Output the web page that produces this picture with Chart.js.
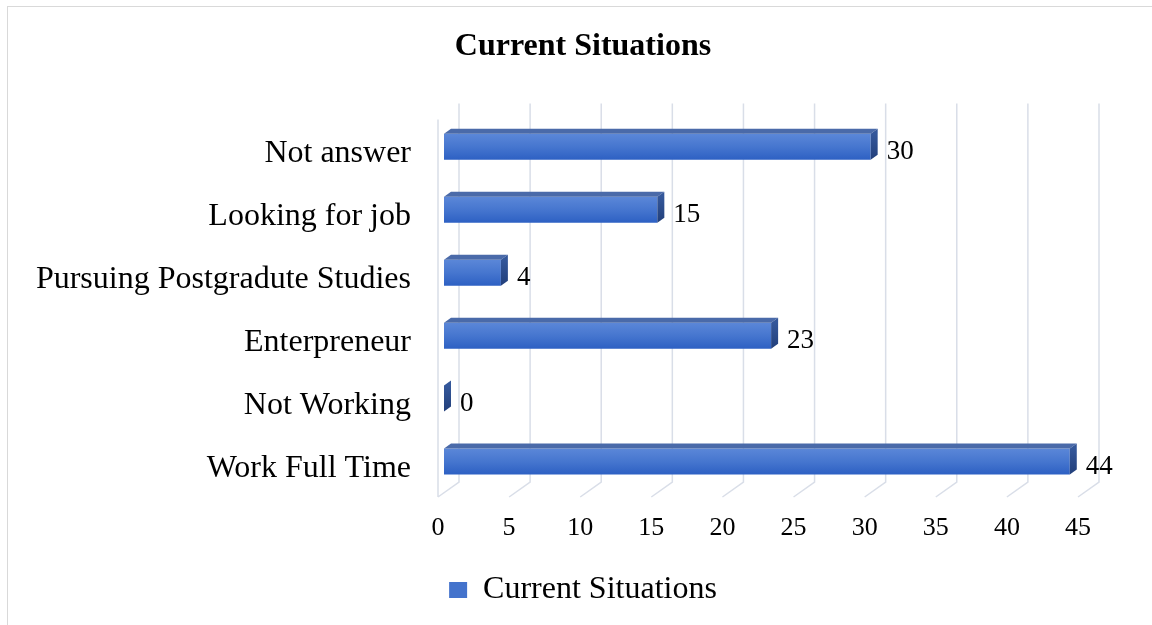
<!DOCTYPE html>
<html lang="en">
<head>
  <meta charset="UTF-8" />
  <title>Current Situations</title>
  <style>
    body {
      margin: 0;
      overflow: hidden;
      background-color: #fff;
    }
    #chart {
      display: block;
    }
  </style>
  <script src="https://cdn.jsdelivr.net/npm/chart.js"></script>
</head>
<body>
  <!-- a little wider than the window so the title/legend centre on the frame -->
  <canvas id="chart" width="1166" height="625"></canvas>

  <script>
    const categories = ['Not answer', 'Looking for job', 'Pursuing Postgradute Studies', 'Enterpreneur', 'Not Working', 'Work Full Time'];
    const values = [30, 15, 4, 23, 0, 44];
    const seriesName = 'Current Situations';
    const xMax = 45;
    const xStep = 5;

    const serif = "'Liberation Serif', 'Times New Roman', serif";

    // fake 3D: back wall offset, bar depth, and bar plane shift
    const wallDepth = { x: 21, y: -15 };
    const barDepth = { x: 7, y: -5 };
    const barShift = { x: 6, y: -4 };
    const barPct = 0.413;

    function frontFill(c) {
      const chart = c.chart;
      const yScale = chart.scales.y;
      if (!yScale || c.dataIndex === undefined) return '#4472C4';
      const cy = yScale.getPixelForValue(c.dataIndex);
      const h = (yScale.bottom - yScale.top) / categories.length * barPct;
      const g = chart.ctx.createLinearGradient(0, cy - h / 2, 0, cy + h / 2);
      g.addColorStop(0, '#5B87D8');
      g.addColorStop(0.5, '#4676CF');
      g.addColorStop(1, '#2D60C3');
      return g;
    }

    const fake3d = {
      id: 'fake3d',
      beforeDraw(chart) {
        const ctx = chart.ctx;
        ctx.save();
        ctx.fillStyle = '#fff';
        ctx.fillRect(0, 0, chart.width, chart.height);
        ctx.strokeStyle = '#D9D9D9';
        ctx.lineWidth = 1;
        ctx.strokeRect(7.5, 6.5, chart.width, chart.height);
        ctx.restore();
      },
      beforeDatasetsDraw(chart) {
        const { ctx, chartArea: a, scales: { x } } = chart;
        ctx.save();
        ctx.strokeStyle = '#D9DEE8';
        ctx.lineWidth = 1.5;
        ctx.beginPath();
        ctx.moveTo(a.left, a.top);
        ctx.lineTo(a.left, a.bottom);
        x.ticks.forEach(t => {
          const px = x.getPixelForValue(t.value);
          ctx.moveTo(px, a.bottom);
          ctx.lineTo(px + wallDepth.x, a.bottom + wallDepth.y);
          ctx.lineTo(px + wallDepth.x, a.top + wallDepth.y - 1);
        });
        ctx.stroke();
        ctx.restore();
        // bars sit a bit behind the front plane
        ctx.save();
        ctx.translate(barShift.x, barShift.y);
      },
      afterDatasetsDraw(chart) {
        const ctx = chart.ctx;
        const bars = chart.getDatasetMeta(0).data;
        bars.forEach(bar => {
          const { x, y, base, height } = bar.getProps(['x', 'y', 'base', 'height'], true);
          const top = y - height / 2;
          const bottom = y + height / 2;
          // top face
          ctx.fillStyle = '#4A6AA9';
          ctx.beginPath();
          ctx.moveTo(base, top);
          ctx.lineTo(x, top);
          ctx.lineTo(x + barDepth.x, top + barDepth.y);
          ctx.lineTo(base + barDepth.x, top + barDepth.y);
          ctx.closePath();
          ctx.fill();
          // side face
          const g = ctx.createLinearGradient(0, top, 0, bottom);
          g.addColorStop(0, '#34579A');
          g.addColorStop(1, '#223F7A');
          ctx.fillStyle = g;
          ctx.beginPath();
          ctx.moveTo(x, top);
          ctx.lineTo(x + barDepth.x, top + barDepth.y);
          ctx.lineTo(x + barDepth.x, bottom + barDepth.y);
          ctx.lineTo(x, bottom);
          ctx.closePath();
          ctx.fill();
        });
        ctx.restore();

        // value labels
        ctx.save();
        ctx.font = '27px ' + serif;
        ctx.fillStyle = '#000';
        ctx.textAlign = 'left';
        ctx.textBaseline = 'middle';
        bars.forEach((bar, i) => {
          const { x, y } = bar.getProps(['x', 'y'], true);
          ctx.fillText(String(values[i]), x + 22, y + 1);
        });
        ctx.restore();
      }
    };

    new Chart(document.getElementById('chart'), {
      type: 'bar',
      data: {
        labels: categories,
        datasets: [{
          label: seriesName,
          data: values,
          yAxisID: 'y',
          backgroundColor: frontFill,
          borderWidth: 0,
          categoryPercentage: 1,
          barPercentage: barPct
        }]
      },
      options: {
        indexAxis: 'y',
        responsive: false,
        animation: false,
        layout: {
          padding: { left: 0, right: 0, top: 0, bottom: 9 }
        },
        scales: {
          x: {
            min: 0,
            max: xMax,
            grid: { display: false, drawTicks: false },
            border: { display: false },
            ticks: {
              stepSize: xStep,
              padding: 16,
              color: '#000',
              font: { family: serif, size: 26 }
            },
            afterFit(scale) { scale.height = 67; }
          },
          y: {
            grid: { display: false, drawTicks: false },
            border: { display: false },
            ticks: {
              padding: 27,
              labelOffset: 3,
              color: '#000',
              font: { family: serif, size: 32 }
            },
            afterFit(scale) { scale.width = 438; }
          },
          // empty right-hand gutter for the value labels
          yRight: {
            type: 'category',
            position: 'right',
            grid: { display: false, drawTicks: false },
            border: { display: false },
            ticks: { display: false },
            afterFit(scale) { scale.width = 88; }
          }
        },
        plugins: {
          title: {
            display: true,
            text: seriesName,
            color: '#000',
            font: { family: serif, size: 32, weight: 'bold' },
            padding: { top: 28, bottom: 53 }
          },
          legend: {
            position: 'bottom',
            labels: {
              boxWidth: 18,
              boxHeight: 16,
              color: '#44546A',
              font: { family: serif, size: 32 },
              generateLabels: () => [{
                text: seriesName,
                fillStyle: '#4473CC',
                strokeStyle: '#4473CC',
                lineWidth: 0,
                datasetIndex: 0
              }]
            }
          },
          tooltip: { enabled: false }
        }
      },
      plugins: [fake3d]
    });
  </script>
</body>
</html>
